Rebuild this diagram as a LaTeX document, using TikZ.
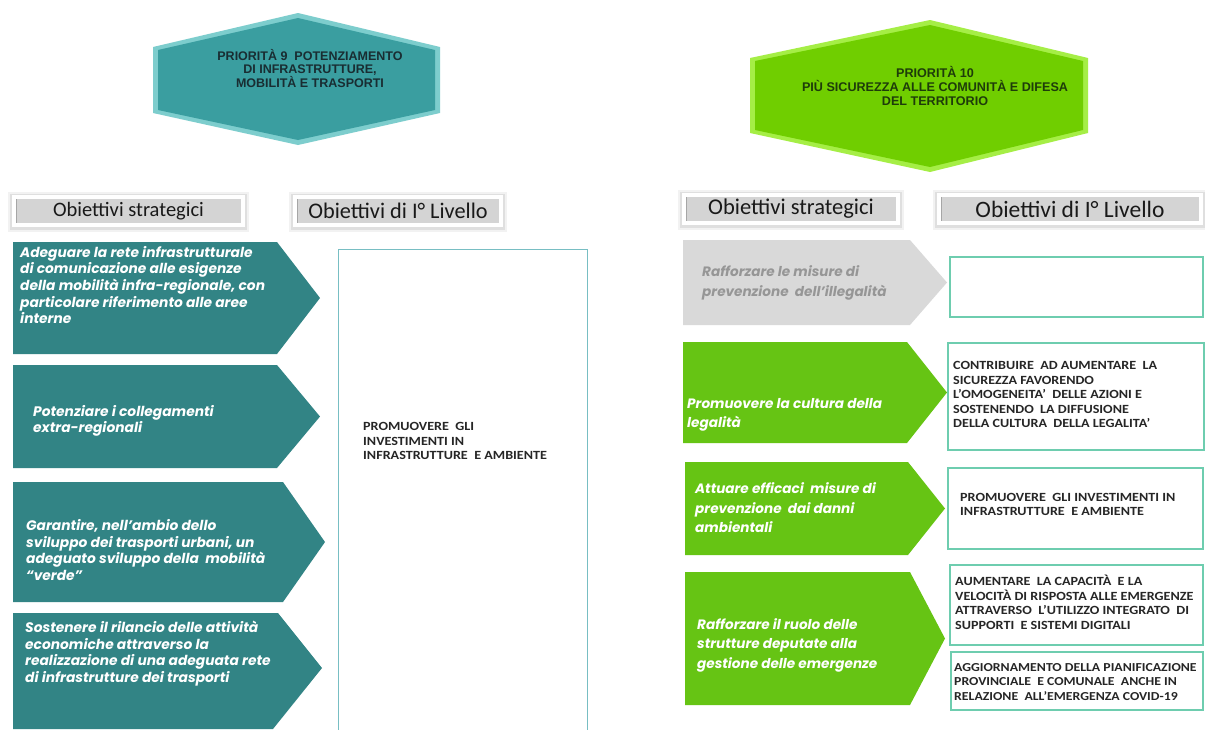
\documentclass[tikz,border=0pt]{standalone}
\usepackage{fontspec}
\setmainfont{Carlito}
\newfontfamily\hexfont{Liberation Sans}
\newfontfamily\arrfont{Poppins}
\newfontfamily\boxfont{Carlito}[FakeStretch=1.13]
\definecolor{tealA}{RGB}{50,132,133}
\definecolor{tealHex}{RGB}{58,158,160}
\definecolor{tealRim}{RGB}{125,205,205}
\definecolor{greenA}{RGB}{102,196,20}
\definecolor{greenHex}{RGB}{112,206,0}
\definecolor{greenRim}{RGB}{165,238,70}
\definecolor{grayA}{RGB}{217,217,217}
\definecolor{grayTxt}{RGB}{150,150,150}
\definecolor{boxL}{RGB}{120,190,195}
\definecolor{boxR}{RGB}{110,205,175}
\definecolor{hexTxtL}{RGB}{25,45,50}
\definecolor{hexTxtR}{RGB}{30,60,10}
\definecolor{hdrGray}{RGB}{212,212,212}
\tikzset{
  atext/.style={inner sep=0, anchor=west, align=left, text=white,
    font=\arrfont\bfseries\itshape\fontsize{13.8}{16.7}\selectfont},
  rtext/.style={atext, font=\arrfont\bfseries\itshape\fontsize{13.6}{19.5}\selectfont},
  btext/.style={inner sep=0, anchor=west, align=left, text=black!85,
    font=\boxfont\bfseries\fontsize{12.5}{14.5}\selectfont},
  hexL/.style={inner sep=0, align=center, text=hexTxtL,
    font=\hexfont\bfseries\fontsize{12.5}{13}\selectfont},
  hexR/.style={inner sep=0, align=center, text=hexTxtR,
    font=\hexfont\bfseries\fontsize{12.6}{14}\selectfont},
  lbox/.style={draw=boxL, line width=1},
  rbox/.style={draw=boxR, line width=1.2},
}
\newcommand\hdrbox[7]{%
  \fill[black, opacity=0.05] (#2-4,#3-3) rectangle (#4+4,#5+5);
  \fill[black, opacity=0.08] (#2-2,#3-1) rectangle (#4+2,#5+3);
  \fill[white] (#2,#3) rectangle (#4,#5);
  \fill[hdrGray] (#2+4,#3+4) rectangle (#4-4,#5-4);
  \draw[gray!70, line width=1] (#2+4.5,#3+4) -- (#2+4.5,#5-4);
  \node[inner sep=0, text=black!90, font=\fontsize{#6}{#6}\selectfont] (#1) at ({(#2+#4)/2},{(#3+#5)/2}) {#7};
}
\newcommand\arrshape[6]{%
  \fill[#1] (#2,#3) -- (#4,#3) -- (#5,{(#3+#6)/2}) -- (#4,#6) -- (#2,#6) -- cycle;
}
\begin{document}
\begin{tikzpicture}[x=1pt,y=-1pt]
\useasboundingbox (0,0) rectangle (1205,729);
\fill[white] (0,0) rectangle (1205,729);

% hexagons
\fill[tealRim] (153,47) -- (298,13) -- (440,47) -- (440,113) -- (298,145) -- (153,113) -- cycle;
\fill[tealHex] (158,50) -- (298,18) -- (435,50) -- (435,110) -- (298,140) -- (158,110) -- cycle;
\node[hexL] (p9) at (310,69) {PRIORITÀ 9\ \ POTENZIAMENTO\\DI INFRASTRUTTURE,\\MOBILITÀ E TRASPORTI};

\fill[greenRim] (750,58) -- (930,20) -- (1088,58) -- (1088,133) -- (930,172) -- (750,133) -- cycle;
\fill[greenHex] (755,61) -- (930,25) -- (1083,61) -- (1083,130) -- (930,167) -- (755,130) -- cycle;
\node[hexR] (p10) at (935,86) {PRIORITÀ 10\\PIÙ SICUREZZA ALLE COMUNITÀ E DIFESA\\DEL TERRITORIO};

% headers
\hdrbox{hL1}{12}{195}{245}{227}{20.5}{Obiettivi strategici}
\hdrbox{hL2}{293}{195}{503}{227}{22.3}{Obiettivi di I° Livello}
\hdrbox{hR1}{682}{193}{900}{225}{22.5}{Obiettivi strategici}
\hdrbox{hR2}{937}{193}{1203}{225}{23.5}{Obiettivi di I° Livello}

% left arrows
\arrshape{tealA}{13}{242}{277}{320}{354}
\arrshape{tealA}{13}{365}{277}{320}{468}
\arrshape{tealA}{13}{482}{283}{325}{602}
\fill[tealA] (13,613) -- (278,613) -- (322,668) -- (273,729) -- (13,729) -- cycle;

\node[atext] (a1) at (20,285) {Adeguare la rete infrastrutturale\\di comunicazione alle esigenze\\della mobilità infra-regionale, con\\particolare riferimento alle aree\\interne};
\node[atext] (a2) at (33,421) {Potenziare i collegamenti\\extra-regionali};
\node[atext] (a3) at (26,550) {Garantire, nell’ambio dello\\sviluppo dei trasporti urbani, un\\adeguato sviluppo della\ \ mobilità\\“verde”};
\node[atext] (a4) at (25,653.5) {Sostenere il rilancio delle attività\\economiche attraverso la\\realizzazione di una adeguata rete\\di infrastrutture dei trasporti};

% left big box
\draw[lbox] (338,249) rectangle (587,740);
\node[btext] (lb) at (363,441) {PROMUOVERE\ \ GLI\\INVESTIMENTI IN\\INFRASTRUTTURE\ \ E AMBIENTE};

% right arrows
\arrshape{grayA}{683}{240}{910}{947}{325}
\arrshape{greenA}{683}{342}{907}{947}{443}
\arrshape{greenA}{685}{462}{908}{945}{555}
\arrshape{greenA}{685}{572}{910}{945}{705}

\node[rtext, text=grayTxt] (g0) at (702,283) {Rafforzare le misure di\\prevenzione\ \ dell’illegalità};
\node[rtext] (g1) at (687,415) {Promuovere la cultura della\\legalità};
\node[rtext] (g2) at (695,508) {Attuare efficaci\ \ misure di\\prevenzione\ \ dai danni\\ambientali};
\node[rtext] (g3) at (697,645) {Rafforzare il ruolo delle\\strutture deputate alla\\gestione delle emergenze};

% right boxes
\draw[rbox] (950,257) rectangle (1203,317);
\draw[rbox] (948,343) rectangle (1204,450);
\draw[rbox] (948,468) rectangle (1203,549);
\draw[rbox] (950,565) rectangle (1203,645);
\draw[rbox] (951,652) rectangle (1203,710);

\node[btext] (b1) at (953,394.5) {CONTRIBUIRE\ \ AD AUMENTARE\ \ LA\\SICUREZZA FAVORENDO\\L’OMOGENEITA’\ \ DELLE AZIONI E\\SOSTENENDO\ \ LA DIFFUSIONE\\DELLA CULTURA\ \ DELLA LEGALITA’};
\node[btext] (b2) at (960,504.5) {PROMUOVERE\ \ GLI INVESTIMENTI IN\\INFRASTRUTTURE\ \ E AMBIENTE};
\node[btext] (b3) at (955,602.5) {AUMENTARE\ \ LA CAPACITÀ\ \ E LA\\VELOCITÀ DI RISPOSTA ALLE EMERGENZE\\ATTRAVERSO\ \ L’UTILIZZO INTEGRATO\ \ DI\\SUPPORTI\ \ E SISTEMI DIGITALI};
\node[btext, font=\boxfont\bfseries\fontsize{12.2}{14.5}\selectfont] (b4) at (954,682) {AGGIORNAMENTO DELLA PIANIFICAZIONE\\PROVINCIALE\ \ E COMUNALE\ \ ANCHE IN\\RELAZIONE\ \ ALL’EMERGENZA COVID-19};
\end{tikzpicture}
\end{document}
